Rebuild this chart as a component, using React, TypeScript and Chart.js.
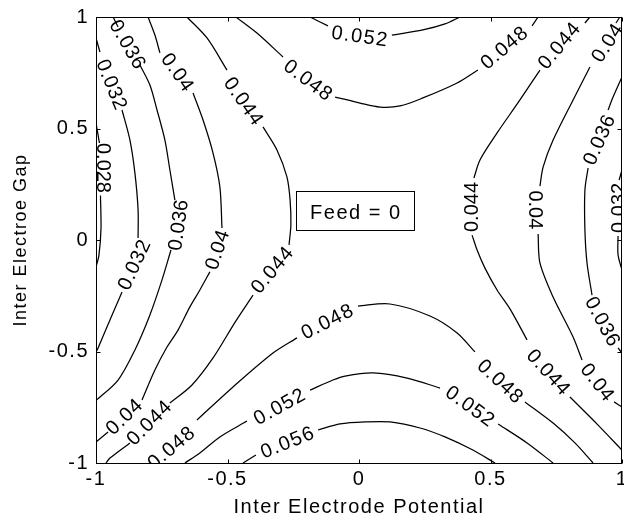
import React, { useEffect, useRef } from "react";
import { Chart, registerables } from "chart.js";

Chart.register(...registerables);

// ---------- data ----------
const xTicks = [-1, -0.5, 0, 0.5, 1];
const yTicks = [-1, -0.5, 0, 0.5, 1];
const xTitle = "Inter Electrode Potential";
const yTitle = "Inter Electroe Gap";
const noteText = "Feed = 0";
// note box corners in data units: [xLeft, yTop, xRight, yBottom], text anchor [x, y]
const noteBox = [-0.24, 0.22, 0.209, 0.045];
const noteAnchor = [-0.186, 0.094];

type Seg = number[][];

// contour level 0.028 (left edge)
const c028: Seg[] = [
  [[-1, 0.525], [-0.992, 0.47], [-0.987, 0.435]],
  [[-0.983, 0.2], [-0.981, 0.05], [-0.989, -0.07], [-1, -0.121]],
];
// contour level 0.032
const c032L: Seg[] = [
  [[-1, 0.906], [-0.985, 0.843]],
  [[-0.901, 0.583], [-0.871, 0.448], [-0.852, 0.3], [-0.84, 0.135], [-0.84, 0.009]],
  [[-0.901, -0.233], [-0.947, -0.359], [-0.992, -0.484], [-1, -0.502]],
];
const c032R: Seg[] = [
  [[1, 0.314], [0.989, 0.269]],
  [[0.985, 0.018], [0.985, -0.067], [1, -0.135]],
];
// contour level 0.036
const c036L: Seg[] = [
  [[-0.935, 1], [-0.916, 0.955]],
  [[-0.833, 0.785], [-0.795, 0.695], [-0.768, 0.583], [-0.738, 0.448], [-0.719, 0.314], [-0.7, 0.179]],
  [[-0.715, -0.045], [-0.749, -0.179], [-0.795, -0.336], [-0.852, -0.493], [-0.916, -0.628], [-1, -0.72]],
];
const c036R: Seg[] = [
  [[1, 0.731], [0.966, 0.641], [0.947, 0.583]],
  [[0.871, 0.323], [0.859, 0.224], [0.859, 0.045], [0.867, -0.103], [0.886, -0.247]],
  [[0.985, -0.484], [1, -0.507]],
];
// contour level 0.04
const c040L: Seg[] = [
  [[-0.802, 1], [-0.776, 0.919], [-0.757, 0.839]],
  [[-0.631, 0.659], [-0.593, 0.538], [-0.555, 0.39], [-0.529, 0.238], [-0.521, 0.054]],
  [[-0.567, -0.143], [-0.605, -0.224], [-0.643, -0.3], [-0.688, -0.404], [-0.73, -0.48], [-0.776, -0.583], [-0.825, -0.717]],
  [[-0.954, -0.861], [-1, -0.906]],
];
const c040R: Seg[] = [
  [[0.992, 1], [0.977, 0.973]],
  [[0.878, 0.776], [0.814, 0.628], [0.738, 0.448], [0.7, 0.327], [0.688, 0.242]],
  [[0.681, 0.027], [0.688, -0.103], [0.738, -0.256], [0.814, -0.435], [0.848, -0.538]],
  [[0.97, -0.726], [1, -0.749]],
];
// contour level 0.044
const c044L: Seg[] = [
  [[-0.654, 1], [-0.578, 0.906], [-0.502, 0.762]],
  [[-0.365, 0.507], [-0.312, 0.404], [-0.274, 0.283], [-0.262, 0.179], [-0.259, 0.067], [-0.266, -0.022]],
  [[-0.403, -0.247], [-0.471, -0.368], [-0.555, -0.529], [-0.635, -0.65], [-0.719, -0.731]],
  [[-0.871, -0.91], [-0.947, -0.978], [-0.962, -1]],
];
const c044R: Seg[] = [
  [[0.878, 1], [0.859, 0.973]],
  [[0.688, 0.762], [0.612, 0.628], [0.525, 0.48], [0.46, 0.359], [0.437, 0.278]],
  [[0.43, 0.022], [0.449, -0.045], [0.479, -0.126], [0.525, -0.224], [0.574, -0.309], [0.639, -0.448]],
  [[0.802, -0.704], [0.909, -0.83], [1, -0.942]],
];
// contour level 0.048
const c048T: Seg[] = [
  [[-0.468, 1], [-0.388, 0.928], [-0.289, 0.821]],
  [[-0.091, 0.641], [0.004, 0.614], [0.08, 0.596], [0.156, 0.601], [0.243, 0.637], [0.373, 0.704], [0.452, 0.762]],
  [[0.658, 0.96], [0.681, 1]],
];
const c048B: Seg[] = [
  [[-0.616, -0.807], [-0.479, -0.659], [-0.327, -0.507], [-0.236, -0.439]],
  [[-0.004, -0.296], [0.118, -0.287], [0.27, -0.341], [0.373, -0.417], [0.441, -0.502]],
  [[0.631, -0.726], [0.738, -0.821], [0.821, -0.91], [0.89, -1]],
];
// contour level 0.052
const c052T: Seg[] = [
  [[-0.186, 1], [-0.118, 0.96]],
  [[0.125, 0.919], [0.243, 0.942], [0.327, 0.969], [0.384, 1]],
];
const c052B: Seg[] = [
  [[-0.662, -1], [-0.605, -0.955], [-0.529, -0.883], [-0.426, -0.812]],
  [[-0.186, -0.673], [-0.099, -0.628], [-0.053, -0.61], [0.053, -0.596], [0.183, -0.619], [0.308, -0.664]],
  [[0.529, -0.825], [0.639, -0.91], [0.738, -1]],
];
// contour level 0.056
const c056: Seg[] = [
  [[-0.441, -1], [-0.392, -0.964]],
  [[-0.156, -0.852], [-0.072, -0.825], [0.023, -0.816], [0.118, -0.816], [0.232, -0.843], [0.327, -0.883], [0.433, -0.942], [0.517, -1]],
];

// inline contour labels: [text, x, y, angle in degrees]
const clabels: [string, number, number, number][] = [
  ["0.036", -0.882, 0.874, 60],
  ["0.032", -0.943, 0.695, 68],
  ["0.028", -0.977, 0.323, 90],
  ["0.04", -0.692, 0.749, 55],
  ["0.044", -0.441, 0.619, 55],
  ["0.048", -0.194, 0.713, 37],
  ["0.052", 0.004, 0.91, 8],
  ["0.048", 0.555, 0.861, -40],
  ["0.044", 0.764, 0.87, -50],
  ["0.04", 0.947, 0.883, -57],
  ["0.036", 0.916, 0.448, -66],
  ["0.044", 0.43, 0.148, -90],
  ["0.04", 0.669, 0.135, 90],
  ["0.032", 0.992, 0.144, -90],
  ["0.036", -0.684, 0.067, -82],
  ["0.032", -0.852, -0.112, -65],
  ["0.04", -0.536, -0.045, -72],
  ["0.044", -0.327, -0.135, -50],
  ["0.048", -0.118, -0.368, -27],
  ["0.04", -0.89, -0.794, -44],
  ["0.044", -0.795, -0.821, -45],
  ["0.048", -0.711, -0.933, -40],
  ["0.052", -0.3, -0.749, -29],
  ["0.056", -0.27, -0.91, -22],
  ["0.048", 0.536, -0.637, 43],
  ["0.052", 0.422, -0.749, 36],
  ["0.044", 0.719, -0.596, 48],
  ["0.04", 0.905, -0.641, 52],
  ["0.036", 0.924, -0.368, 62],
];

const allContours: Seg[][] = [c028, c032L, c032R, c036L, c036R, c040L, c040R, c044L, c044R, c048T, c048B, c052T, c052B, c056];

// ---------- chart ----------
const FONT = "'Liberation Sans', Arial, Helvetica, sans-serif";

const contourPlugin = {
  id: "contourDecor",
  beforeDraw(chart: any) {
    const ctx = chart.ctx;
    ctx.save();
    ctx.fillStyle = "#ffffff";
    ctx.fillRect(0, 0, chart.width, chart.height);
    ctx.restore();
    (ctx as any).letterSpacing = "1.5px";
  },
  afterDatasetsDraw(chart: any) {
    const { ctx, chartArea: a } = chart;
    const xs = chart.scales.x;
    const ys = chart.scales.y;
    ctx.save();
    ctx.beginPath();
    ctx.rect(a.left, a.top, a.right - a.left, a.bottom - a.top);
    ctx.clip();
    ctx.fillStyle = "#000";
    ctx.font = `20px ${FONT}`;
    ctx.textAlign = "center";
    ctx.textBaseline = "middle";
    for (const [t, x, y, ang] of clabels) {
      const r = (ang * Math.PI) / 180;
      (ctx as any).letterSpacing = `${(1.5 * Math.abs(Math.cos(r))).toFixed(2)}px`;
      ctx.save();
      ctx.translate(xs.getPixelForValue(x), ys.getPixelForValue(y));
      ctx.rotate(r);
      ctx.fillText(t, 0, 0);
      ctx.restore();
    }
    ctx.restore();
    (ctx as any).letterSpacing = "1.5px";

    // note box
    ctx.save();
    ctx.strokeStyle = "#000";
    ctx.lineWidth = 1;
    const bx0 = Math.round(xs.getPixelForValue(noteBox[0])) + 0.5;
    const by0 = Math.round(ys.getPixelForValue(noteBox[1])) + 0.5;
    const bx1 = Math.round(xs.getPixelForValue(noteBox[2])) + 0.5;
    const by1 = Math.round(ys.getPixelForValue(noteBox[3])) + 0.5;
    ctx.strokeRect(bx0, by0, bx1 - bx0, by1 - by0);
    ctx.fillStyle = "#000";
    ctx.font = `20px ${FONT}`;
    ctx.textAlign = "left";
    ctx.textBaseline = "alphabetic";
    ctx.fillText(noteText, xs.getPixelForValue(noteAnchor[0]), ys.getPixelForValue(noteAnchor[1]));
    ctx.restore();
  },
  afterDraw(chart: any) {
    const { ctx, chartArea: a } = chart;
    const xs = chart.scales.x;
    const ys = chart.scales.y;
    ctx.save();
    ctx.strokeStyle = "#000";
    ctx.lineWidth = 1;
    const L = Math.round(a.left) + 0.5;
    const R = Math.round(a.right) - 0.5;
    const T = Math.round(a.top) + 0.5;
    const B = Math.round(a.bottom) + 0.5;
    ctx.strokeRect(L, T, R - L, B - T);
    ctx.beginPath();
    for (const v of xTicks) {
      const px = Math.round(xs.getPixelForValue(v)) + 0.5;
      ctx.moveTo(px, B);
      ctx.lineTo(px, B - 4);
      ctx.moveTo(px, T);
      ctx.lineTo(px, T + 4);
    }
    for (const v of yTicks) {
      const py = Math.round(ys.getPixelForValue(v)) + 0.5;
      ctx.moveTo(L, py);
      ctx.lineTo(L + 4, py);
      ctx.moveTo(R, py);
      ctx.lineTo(R - 4, py);
    }
    ctx.stroke();
    ctx.restore();
    (ctx as any).letterSpacing = "0px";
  },
};

export default function App() {
  const ref = useRef<HTMLCanvasElement>(null);

  useEffect(() => {
    if (!ref.current) return;
    Chart.defaults.font.family = FONT;
    Chart.defaults.color = "#000";

    const datasets: any[] = [];
    allContours.forEach((segs) => {
      segs.forEach((seg) => {
        datasets.push({
          data: seg.map(([x, y]) => ({ x, y })),
          showLine: true,
          borderColor: "#000",
          borderWidth: 1.25,
          pointRadius: 0,
          pointHoverRadius: 0,
          tension: 0.3,
          fill: false,
        });
      });
    });

    const chart = new Chart(ref.current, {
      type: "scatter",
      data: { datasets },
      options: {
        animation: false,
        responsive: true,
        maintainAspectRatio: false,
        events: [],
        layout: { padding: { top: 17, right: 2, bottom: 0, left: 0 } },
        plugins: {
          legend: { display: false },
          tooltip: { enabled: false },
        },
        scales: {
          x: {
            type: "linear",
            min: -1,
            max: 1,
            grid: { display: false, drawTicks: false },
            border: { display: false },
            ticks: {
              stepSize: 0.5,
              autoSkip: false,
              maxRotation: 0,
              padding: 4,
              font: { size: 20 },
              color: "#000",
              callback: (v: any) => String(v),
            },
            title: {
              display: true,
              text: xTitle,
              font: { size: 20 },
              color: "#000",
              padding: { top: 0, bottom: 0 },
            },
            afterFit: (s: any) => {
              s.height = 56;
              s.paddingLeft = 0;
              s.paddingRight = 0;
            },
          },
          y: {
            type: "linear",
            min: -1,
            max: 1,
            grid: { display: false, drawTicks: false },
            border: { display: false },
            ticks: {
              stepSize: 0.5,
              autoSkip: false,
              padding: 7,
              font: { size: 20 },
              color: "#000",
              callback: (v: any) => String(v),
            },
            title: {
              display: true,
              text: yTitle,
              font: { size: 18 },
              color: "#000",
              padding: { top: 10, bottom: 0 },
            },
            afterFit: (s: any) => {
              s.width = 96;
              s.paddingTop = 0;
              s.paddingBottom = 0;
            },
          },
        },
      },
      plugins: [contourPlugin],
    } as any);

    return () => chart.destroy();
  }, []);

  return (
    <div style={{ position: "absolute", left: 0, top: 0, width: 624, height: 519, background: "#fff" }}>
      <canvas ref={ref} />
    </div>
  );
}
